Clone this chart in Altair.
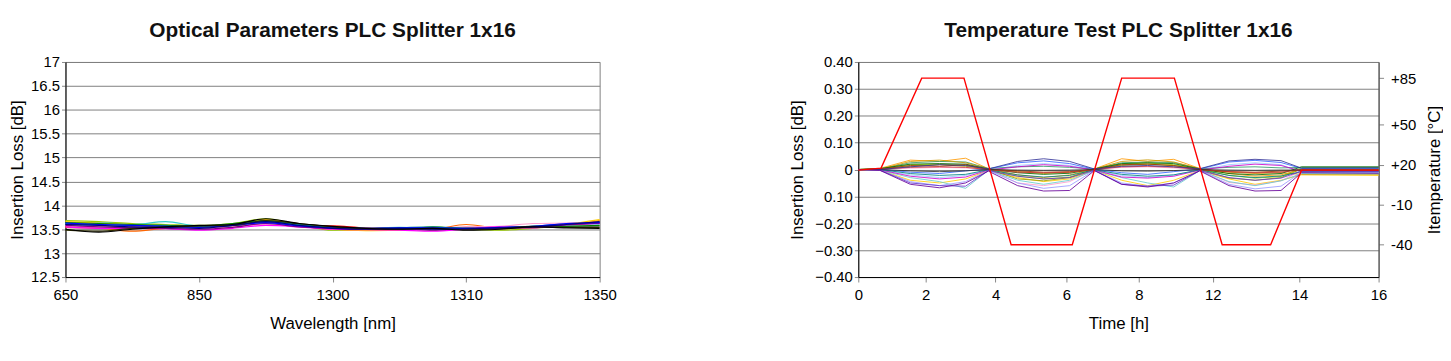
import json
import altair as alt
import pandas as pd

FONT = "Liberation Sans"

# ---------------- Left chart: Optical Parameters ----------------
wl_pos = [0, 0.25, 0.5, 0.75, 1, 1.25, 1.5, 1.75, 2, 2.25, 2.5, 2.75, 3, 3.25, 3.5, 3.75, 4]
wl_tick_pos = [0, 1, 2, 3, 4]
wl_tick_labels = ["650", "850", "1300", "1310", "1350"]

left_names = ["s01", "s02", "s03", "s04", "s05", "s06", "s07", "s08",
              "s09", "s10", "s11", "s12", "s13", "s14", "s15", "s16"]
left_colors = ["#99CC00", "#33CCCC", "#FF6600", "#FF0000", "#FF99CC", "#FFCC00", "#808080", "#99CCFF",
               "#008000", "#008080", "#FF00FF", "#800080", "#0000FF", "#333300", "#000080", "#000000"]
left_s01 = [13.68, 13.66, 13.62, 13.60, 13.58, 13.62, 13.72, 13.60, 13.48, 13.50, 13.48, 13.55, 13.50, 13.48, 13.52, 13.58, 13.66]
left_s02 = [13.62, 13.64, 13.60, 13.66, 13.57, 13.60, 13.65, 13.58, 13.53, 13.52, 13.54, 13.52, 13.53, 13.55, 13.56, 13.62, 13.64]
left_s03 = [13.54, 13.52, 13.46, 13.52, 13.54, 13.56, 13.62, 13.56, 13.50, 13.48, 13.52, 13.50, 13.60, 13.52, 13.54, 13.58, 13.68]
left_s04 = [13.56, 13.54, 13.56, 13.55, 13.56, 13.60, 13.64, 13.58, 13.57, 13.53, 13.52, 13.50, 13.54, 13.53, 13.55, 13.58, 13.62]
left_s05 = [13.57, 13.54, 13.54, 13.53, 13.52, 13.56, 13.60, 13.56, 13.51, 13.52, 13.50, 13.52, 13.55, 13.56, 13.62, 13.63, 13.65]
left_s06 = [13.66, 13.63, 13.60, 13.56, 13.54, 13.60, 13.70, 13.58, 13.50, 13.47, 13.48, 13.50, 13.52, 13.51, 13.54, 13.60, 13.70]
left_s07 = [13.50, 13.50, 13.53, 13.54, 13.55, 13.58, 13.63, 13.58, 13.53, 13.50, 13.52, 13.50, 13.50, 13.52, 13.54, 13.56, 13.56]
left_s08 = [13.58, 13.58, 13.57, 13.58, 13.55, 13.58, 13.64, 13.58, 13.53, 13.52, 13.52, 13.51, 13.53, 13.52, 13.55, 13.58, 13.60]
left_s09 = [13.64, 13.62, 13.60, 13.58, 13.56, 13.62, 13.68, 13.60, 13.54, 13.52, 13.52, 13.54, 13.52, 13.53, 13.55, 13.56, 13.58]
left_s10 = [13.60, 13.60, 13.58, 13.57, 13.55, 13.60, 13.66, 13.60, 13.54, 13.51, 13.53, 13.55, 13.52, 13.54, 13.56, 13.60, 13.64]
left_s11 = [13.55, 13.52, 13.52, 13.51, 13.48, 13.52, 13.58, 13.55, 13.50, 13.49, 13.48, 13.46, 13.50, 13.55, 13.53, 13.60, 13.62]
left_s12 = [13.58, 13.55, 13.53, 13.52, 13.50, 13.54, 13.62, 13.55, 13.52, 13.50, 13.51, 13.48, 13.52, 13.52, 13.54, 13.59, 13.63]
left_s13 = [13.63, 13.60, 13.58, 13.56, 13.54, 13.58, 13.64, 13.57, 13.53, 13.52, 13.53, 13.53, 13.52, 13.54, 13.56, 13.62, 13.64]
left_s14 = [13.48, 13.46, 13.52, 13.55, 13.57, 13.58, 13.68, 13.62, 13.55, 13.51, 13.50, 13.52, 13.49, 13.51, 13.56, 13.54, 13.54]
left_s15 = [13.60, 13.58, 13.55, 13.54, 13.52, 13.58, 13.66, 13.58, 13.52, 13.50, 13.52, 13.50, 13.51, 13.53, 13.55, 13.60, 13.66]
left_s16 = [13.50, 13.44, 13.50, 13.55, 13.58, 13.60, 13.72, 13.62, 13.56, 13.52, 13.50, 13.52, 13.48, 13.50, 13.55, 13.53, 13.52]
left_values = [left_s01, left_s02, left_s03, left_s04, left_s05, left_s06, left_s07, left_s08,
               left_s09, left_s10, left_s11, left_s12, left_s13, left_s14, left_s15, left_s16]
left_y_ticks = [12.5, 13, 13.5, 14, 14.5, 15, 15.5, 16, 16.5, 17]

# ---------------- Right chart: Temperature Test ----------------
t_pos = [0, 0.66, 1.6, 2.5, 3.3, 4.0, 4.9, 5.7, 6.5, 7.26, 8.1, 8.9, 9.7, 10.5, 11.4, 12.2, 13.0, 13.63, 16]
t_tick_pos = [0, 2.07, 4.22, 6.4, 8.63, 10.9, 13.57, 16]
t_tick_labels = ["0", "2", "4", "6", "8", "12", "14", "16"]

right_names = ["r01", "r02", "r03", "r04", "r05", "r06", "r07", "r08", "r09", "r10",
               "r11", "r12", "r13", "r14", "r15", "r16", "r17", "r18", "r19", "r20"]
right_colors = ["#FFCC00", "#FF9900", "#99CCFF", "#FF99CC", "#99CC00", "#339966", "#CC9900", "#999900",
                "#66CCCC", "#9999FF", "#CC00CC", "#3366FF", "#008080", "#006600", "#993300", "#CC3333",
                "#6633CC", "#333333", "#660099", "#333399"]
r01 = [0, -0.002, -0.040, -0.050, -0.035, -0.004, -0.030, -0.045, -0.035, -0.003, -0.040, -0.060, -0.040, -0.004, -0.035, -0.055, -0.040, -0.020, -0.022]
r02 = [0, 0.004, 0.035, 0.030, 0.042, 0.003, -0.020, -0.030, -0.020, 0.002, 0.040, 0.030, 0.038, 0.004, -0.015, -0.025, -0.020, 0.000, 0.000]
r03 = [0, -0.001, -0.020, -0.030, -0.022, -0.002, 0.015, 0.022, 0.015, -0.002, -0.022, -0.030, -0.020, -0.002, 0.018, 0.025, 0.018, -0.012, -0.012]
r04 = [0, 0.001, 0.005, 0.008, 0.006, 0.001, -0.050, -0.060, -0.045, 0.000, 0.008, 0.010, 0.006, 0.001, -0.048, -0.058, -0.042, -0.004, -0.004]
r05 = [0, 0.002, 0.018, 0.020, 0.016, 0.002, -0.025, -0.035, -0.028, 0.002, 0.020, 0.024, 0.018, 0.002, -0.022, -0.032, -0.026, 0.006, 0.006]
r06 = [0, 0.002, 0.025, 0.030, 0.028, 0.004, 0.010, 0.012, 0.008, 0.002, 0.025, 0.028, 0.026, 0.003, 0.008, 0.010, 0.006, 0.008, 0.008]
r07 = [0, 0.001, 0.030, 0.035, 0.025, 0.003, -0.008, -0.015, -0.010, 0.002, 0.030, 0.036, 0.028, 0.003, -0.010, -0.015, -0.012, -0.018, -0.018]
r08 = [0, 0.002, 0.012, 0.018, 0.012, 0.001, -0.035, -0.042, -0.030, 0.001, 0.015, 0.020, 0.014, 0.001, -0.032, -0.040, -0.030, 0.002, 0.002]
r09 = [0, -0.002, -0.030, -0.045, -0.070, -0.003, -0.040, -0.055, -0.040, -0.004, -0.030, -0.050, -0.065, -0.004, -0.045, -0.060, -0.042, -0.015, -0.016]
r10 = [0, -0.002, -0.045, -0.060, -0.045, -0.003, -0.050, -0.070, -0.060, -0.003, -0.050, -0.062, -0.050, -0.003, -0.055, -0.072, -0.062, -0.010, -0.011]
r11 = [0, -0.001, -0.025, -0.035, -0.028, -0.002, 0.010, 0.018, 0.012, -0.002, -0.028, -0.032, -0.025, -0.002, 0.012, 0.020, 0.015, -0.006, -0.006]
r12 = [0, 0.001, -0.010, -0.015, -0.005, 0.002, 0.025, 0.032, 0.022, 0.001, -0.012, -0.018, -0.008, 0.002, 0.028, 0.034, 0.026, 0.004, 0.004]
r13 = [0, 0.000, -0.015, -0.022, -0.018, -0.001, -0.020, -0.028, -0.022, -0.001, -0.018, -0.025, -0.020, -0.001, -0.022, -0.030, -0.024, -0.008, -0.008]
r14 = [0, 0.003, 0.020, 0.022, 0.020, 0.002, -0.012, -0.018, -0.014, 0.002, 0.022, 0.025, 0.022, 0.002, -0.015, -0.020, -0.015, 0.010, 0.010]
r15 = [0, 0.001, 0.015, 0.012, 0.018, 0.000, -0.005, -0.010, -0.008, 0.000, 0.018, 0.020, 0.015, 0.000, -0.008, -0.010, -0.006, -0.002, -0.003]
r16 = [0, 0.001, 0.008, 0.010, 0.008, 0.000, -0.010, -0.012, -0.010, 0.000, 0.010, 0.012, 0.009, 0.000, -0.008, -0.012, -0.010, -0.001, -0.001]
r17 = [0, -0.002, -0.050, -0.060, -0.062, -0.004, -0.025, -0.035, -0.030, -0.003, -0.055, -0.062, -0.058, -0.004, -0.030, -0.040, -0.032, -0.006, -0.007]
r18 = [0, 0.000, -0.005, -0.008, -0.005, 0.000, -0.002, -0.003, -0.002, 0.000, -0.005, -0.006, -0.004, 0.000, -0.002, -0.003, -0.002, -0.002, -0.002]
r19 = [0, -0.003, -0.055, -0.068, -0.050, -0.006, -0.060, -0.080, -0.078, -0.004, -0.055, -0.065, -0.050, -0.005, -0.060, -0.080, -0.078, -0.012, -0.014]
r20 = [0, 0.000, 0.010, 0.018, 0.015, 0.002, 0.030, 0.040, 0.030, 0.002, 0.012, 0.015, 0.010, 0.003, 0.032, 0.038, 0.033, 0.005, 0.006]
right_values = [r01, r02, r03, r04, r05, r06, r07, r08, r09, r10,
                r11, r12, r13, r14, r15, r16, r17, r18, r19, r20]
il_ticks = [-0.4, -0.3, -0.2, -0.1, 0, 0.1, 0.2, 0.3, 0.4]

temp_pos = [0, 0.70, 1.95, 3.25, 4.70, 6.58, 8.10, 9.72, 11.19, 12.68, 13.63, 16]
temp_vals = [16, 17.5, 85, 85, -40, -40, 85, 85, -40, -40, 16, 16]
temp_ticks = [-40, -10, 20, 50, 85]

# ---------------- tables ----------------
left_rows = []
for name, vals in zip(left_names, left_values):
    for x, v in zip(wl_pos, vals):
        left_rows.append({"series": name, "pos": x, "il": v})
left_df = pd.DataFrame(left_rows)

right_rows = []
for name, vals in zip(right_names, right_values):
    for x, v in zip(t_pos, vals):
        right_rows.append({"series": name, "t": x, "il": v})
right_df = pd.DataFrame(right_rows)

temp_df = pd.DataFrame({"t": temp_pos, "temp": temp_vals})

axis_common = dict(
    labelFont=FONT, labelFontSize=15, labelColor="#000000",
    titleFont=FONT, titleFontSize=17, titleFontWeight="normal", titleColor="#000000",
    domainColor="#000000", tickColor="#888888", gridColor="#7f7f7f",
)

# ---------------- left chart ----------------
left = alt.Chart(left_df).mark_line(strokeWidth=1.2, interpolate="monotone").encode(
    x=alt.X("pos:Q",
            scale=alt.Scale(domain=[0, 4], nice=False, zero=False),
            axis=alt.Axis(values=wl_tick_pos,
                          labelExpr=json.dumps(wl_tick_labels) + "[round(datum.value)]",
                          title="Wavelength [nm]", grid=False, tickSize=5,
                          labelPadding=6, titlePadding=13, labelFlush=False, **axis_common)),
    y=alt.Y("il:Q",
            scale=alt.Scale(domain=[12.5, 17], nice=False, zero=False),
            axis=alt.Axis(values=left_y_ticks, format="~g", title="Insertion Loss [dB]",
                          grid=True, tickSize=4, labelPadding=2, titlePadding=4, **axis_common)),
    color=alt.Color("series:N", scale=alt.Scale(domain=left_names, range=left_colors), legend=None),
).properties(width=539, height=217, title="Optical Parameters PLC Splitter 1x16")

# ---------------- right chart ----------------
x_time = alt.X("t:Q",
               scale=alt.Scale(domain=[0, 16], nice=False, zero=False),
               axis=alt.Axis(values=t_tick_pos,
                             labelExpr=json.dumps(t_tick_labels) + "[indexof(" + json.dumps(t_tick_pos) + ", datum.value)]",
                             title="Time [h]", grid=False, tickSize=5, labelPadding=6,
                             titlePadding=13, labelFlush=False, **axis_common))

il_lines = alt.Chart(right_df).mark_line(strokeWidth=1, opacity=0.85).encode(
    x=x_time,
    y=alt.Y("il:Q",
            scale=alt.Scale(domain=[-0.4, 0.4], nice=False, zero=False),
            axis=alt.Axis(values=il_ticks,
                          labelExpr="abs(datum.value) < 0.001 ? '0' : ((datum.value < -0.05 && datum.value > -0.15) ? '0.10' : format(datum.value, '.2f'))",
                          title="Insertion Loss [dB]", grid=True, tickSize=4, labelPadding=2,
                          titlePadding=8, **axis_common)),
    color=alt.Color("series:N", scale=alt.Scale(domain=right_names, range=right_colors), legend=None),
)

temp_line = alt.Chart(temp_df).mark_line(color="#FF0000", strokeWidth=1.4).encode(
    x=x_time,
    y=alt.Y("temp:Q",
            scale=alt.Scale(domain=[-64.2, 97.1], nice=False, zero=False),
            axis=alt.Axis(orient="right", values=temp_ticks,
                          labelExpr="(datum.value > 0 ? '+' : '') + datum.value",
                          title="Itemperature [°C]", titleAngle=270, titleBaseline="top",
                          grid=False, tickSize=5, labelPadding=7, titlePadding=11,
                          **{**axis_common, "domainColor": "#444444"})),
)

right = alt.layer(il_lines, temp_line).resolve_scale(y="independent", color="independent").properties(
    width=525, height=217, title="Temperature Test PLC Splitter 1x16")

chart = alt.hconcat(left, right, spacing=172).properties(
    padding={"top": 10, "left": 0, "right": 0, "bottom": 0}
).configure_view(
    stroke="#7f7f7f", strokeWidth=1
).configure_title(
    font=FONT, fontSize=21, fontWeight="bold", color="#111111", anchor="middle", offset=14
).configure_concat(spacing=172)

chart.save("out.html", embed_options={"renderer": "svg", "actions": False})
